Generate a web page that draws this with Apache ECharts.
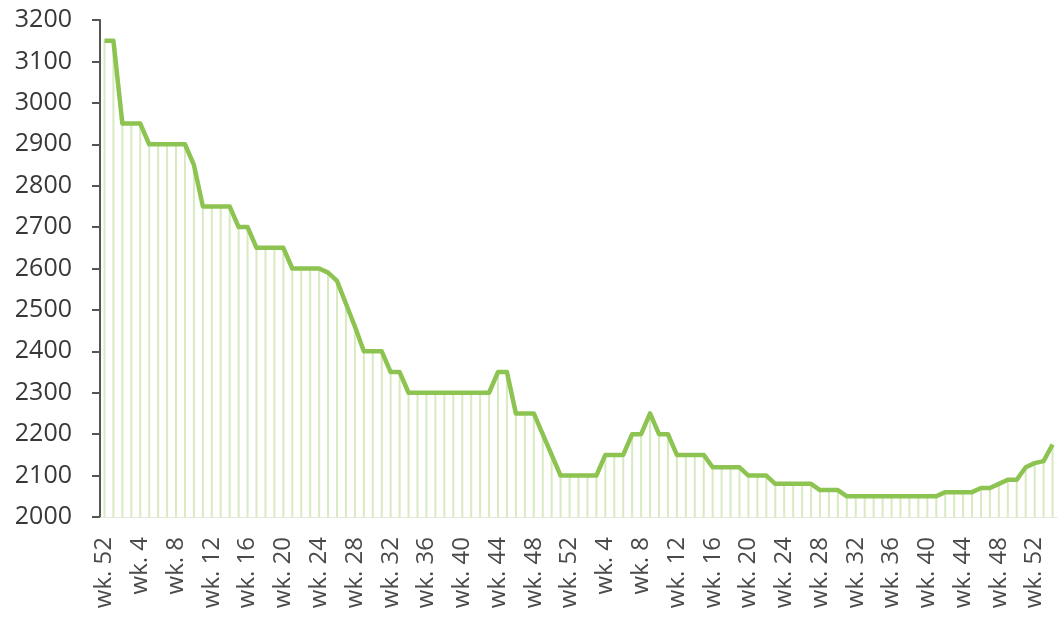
<!DOCTYPE html>
<html>
<head>
<meta charset="utf-8">
<script src="https://cdn.jsdelivr.net/npm/echarts@6/dist/echarts.min.js"></script>
<style>html,body{margin:0;padding:0;background:#fff;}#c{width:1059px;height:619px;}</style>
</head>
<body>
<div id="c"></div>
<script>
// week labels: wk. 52, then wk. 1..52 twice, then wk. 1..2
const categories = ['wk. 52'];
for (let y = 0; y < 2; y++) { for (let w = 1; w <= 52; w++) categories.push('wk. ' + w); }
categories.push('wk. 1', 'wk. 2');

const values = [
  3150, 3150, 2950, 2950, 2950, 2900, 2900, 2900, 2900, 2900,
  2850, 2750, 2750, 2750, 2750, 2700, 2700, 2650, 2650, 2650,
  2650, 2600, 2600, 2600, 2600, 2590, 2570, 2515, 2460, 2400,
  2400, 2400, 2350, 2350, 2300, 2300, 2300, 2300, 2300, 2300,
  2300, 2300, 2300, 2300, 2350, 2350, 2250, 2250, 2250, 2200,
  2150, 2100, 2100, 2100, 2100, 2100, 2150, 2150, 2150, 2200,
  2200, 2250, 2200, 2200, 2150, 2150, 2150, 2150, 2120, 2120,
  2120, 2120, 2100, 2100, 2100, 2080, 2080, 2080, 2080, 2080,
  2065, 2065, 2065, 2050, 2050, 2050, 2050, 2050, 2050, 2050,
  2050, 2050, 2050, 2050, 2060, 2060, 2060, 2060, 2070, 2070,
  2080, 2090, 2090, 2120, 2130, 2135, 2175
];

const chart = echarts.init(document.getElementById('c'));
chart.setOption({
  animation: false,
  backgroundColor: '#ffffff',
  grid: { left: 100, right: 2, top: 20, bottom: 102 },
  xAxis: {
    type: 'category',
    data: categories,
    boundaryGap: true,
    axisLine: { show: true, lineStyle: { color: '#e4ead8', width: 1 } },
    axisTick: { show: false },
    axisLabel: {
      interval: 3,
      rotate: 90,
      margin: 20,
      color: '#4a4a4a',
      fontSize: 24,
      fontFamily: 'Open Sans'
    },
    splitLine: { show: false }
  },
  yAxis: {
    type: 'value',
    min: 2000,
    max: 3200,
    interval: 100,
    axisLine: { show: true, lineStyle: { color: '#555555', width: 2 } },
    axisTick: { show: true, length: 8, lineStyle: { color: '#555555', width: 2 } },
    axisLabel: {
      margin: 28,
      color: '#383838',
      fontSize: 25,
      fontFamily: 'Open Sans',
      formatter: function (v) { return String(v); }
    },
    splitLine: { show: false }
  },
  series: [
    {
      type: 'bar',
      data: values,
      barWidth: 2,
      itemStyle: { color: 'rgba(150,200,90,0.38)' },
      silent: true,
      z: 1
    },
    {
      type: 'line',
      data: values,
      symbol: 'none',
      lineStyle: { color: '#8dc350', width: 4.5, join: 'round' },
      z: 3
    }
  ]
});
</script>
</body>
</html>
